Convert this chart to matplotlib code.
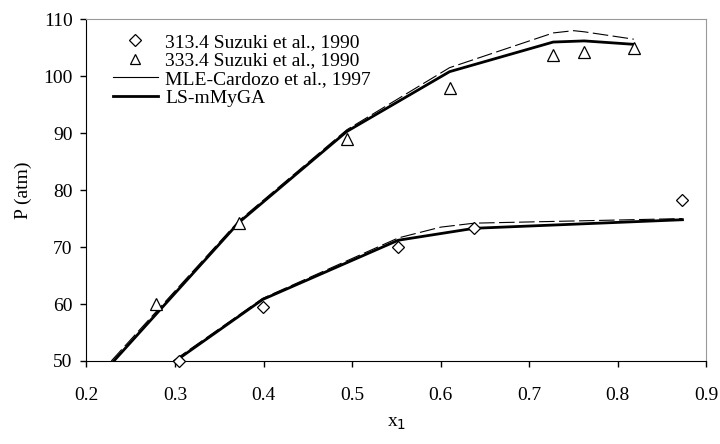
import matplotlib
matplotlib.use("Agg")
import matplotlib.pyplot as plt
from matplotlib.lines import Line2D

plt.rcParams['font.family'] = ['Liberation Serif', 'DejaVu Serif']

# experimental data
x_313 = [0.305, 0.399, 0.552, 0.638, 0.873]
p_313 = [50.0, 59.5, 70.0, 73.4, 78.2]
x_333 = [0.278, 0.372, 0.494, 0.610, 0.727, 0.762, 0.818]
p_333 = [60.0, 74.3, 89.0, 98.0, 103.7, 104.3, 105.0]

# MLE-Cardozo model
x_mle_333 = [0.228, 0.372, 0.494, 0.610, 0.727, 0.750, 0.762, 0.818]
p_mle_333 = [50.0, 74.6, 90.6, 101.5, 107.6, 108.0, 107.8, 106.5]
x_mle_313 = [0.298, 0.399, 0.552, 0.600, 0.638, 0.873]
p_mle_313 = [50.0, 61.0, 71.6, 73.5, 74.2, 75.0]

# LS-mMyGA model
x_ls_333 = [0.228, 0.372, 0.494, 0.610, 0.727, 0.762, 0.818]
p_ls_333 = [49.5, 74.3, 90.3, 100.8, 106.0, 106.2, 105.6]
x_ls_313 = [0.296, 0.399, 0.552, 0.638, 0.873]
p_ls_313 = [49.5, 60.8, 71.2, 73.3, 74.8]

xticks = [0.2, 0.3, 0.4, 0.5, 0.6, 0.7, 0.8, 0.9]
yticks = [50, 60, 70, 80, 90, 100, 110]

fig = plt.figure(figsize=(7.2, 4.44), dpi=100)
ax = fig.add_axes([0.1201, 0.187, 0.861, 0.7696])

ax.plot(x_mle_333, p_mle_333, color='black', lw=0.8, dashes=(14, 4), clip_on=True)
ax.plot(x_mle_313, p_mle_313, color='black', lw=0.8, dashes=(14, 4), clip_on=True)
ax.plot(x_ls_333, p_ls_333, color='black', lw=2.0, clip_on=True)
ax.plot(x_ls_313, p_ls_313, color='black', lw=2.0, clip_on=True)
ax.plot(x_313, p_313, linestyle='none', marker='D', markersize=6.5, mfc='white',
        mec='black', mew=0.9, clip_on=False, zorder=5)
ax.plot(x_333, p_333, linestyle='none', marker='^', markersize=8, mfc='white',
        mec='black', mew=0.9, clip_on=False, zorder=5)

ax.set_xlim(0.2, 0.9)
ax.set_ylim(50, 110)
ax.set_xticks(xticks)
ax.set_yticks(yticks)
ax.set_xticklabels([f"{v:.1f}" for v in xticks])
ax.set_yticklabels([str(v) for v in yticks])
ax.tick_params(direction='out', length=4, width=1, labelsize=14, colors='black', pad=6)
ax.tick_params(axis='x', pad=15)
for s in ['top', 'right']:
    ax.spines[s].set_color('#999999')
for s in ['left', 'bottom']:
    ax.spines[s].set_color('black')

ax.set_ylabel('P (atm)', fontsize=14, labelpad=8)
ax.set_xlabel('x$_1$', fontsize=14, labelpad=8)

handles = [
    Line2D([], [], linestyle='none', marker='D', markersize=6, mfc='white', mec='black', mew=0.9),
    Line2D([], [], linestyle='none', marker='^', markersize=7.5, mfc='white', mec='black', mew=0.9),
    Line2D([], [], color='black', lw=0.8),
    Line2D([], [], color='black', lw=2.0),
]
labels = ['313.4 Suzuki et al., 1990', '333.4 Suzuki et al., 1990',
          'MLE-Cardozo et al., 1997', 'LS-mMyGA']
ax.legend(handles, labels, loc='upper left', bbox_to_anchor=(0.030, 0.982), frameon=False,
          fontsize=14, handlelength=2.3, handletextpad=0.4, labelspacing=0.05,
          borderaxespad=0.0)

fig.savefig('out.png', dpi=100)
